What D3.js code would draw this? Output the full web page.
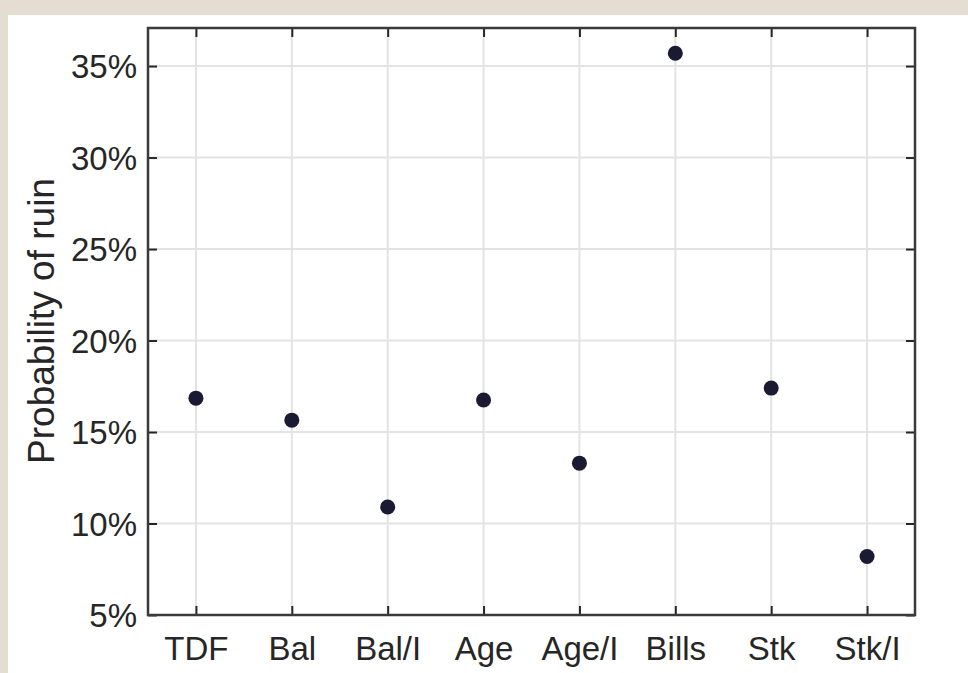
<!DOCTYPE html>
<html>
<head>
<meta charset="utf-8">
<script src="https://cdn.jsdelivr.net/npm/d3@7"></script>
<style>
  html, body { margin: 0; padding: 0; background: #e5ddd2; }
  svg { display: block; }
</style>
</head>
<body>
<svg id="chart"></svg>
<script>
const categories = ['TDF', 'Bal', 'Bal/I', 'Age', 'Age/I', 'Bills', 'Stk', 'Stk/I'];
const ruinPct = [16.85, 15.65, 10.9, 16.75, 13.3, 35.7, 17.4, 8.2];
const yTicks = [5, 10, 15, 20, 25, 30, 35];

const width = 968, height = 673;
const margin = {top: 28, right: 53, bottom: 58, left: 148};
const innerW = width - margin.left - margin.right;
const innerH = height - margin.top - margin.bottom;
const textColor = '#262626';
const font = '"Liberation Sans", Arial, sans-serif';

const svg = d3.select('#chart').attr('width', width).attr('height', height);

// white canvas inside beige border
svg.append('rect')
    .attr('x', 8).attr('y', 15)
    .attr('width', width - 8).attr('height', height - 15)
    .attr('fill', '#fff');

const g = svg.append('g')
    .attr('transform', `translate(${margin.left}, ${margin.top})`);

const x = d3.scaleLinear().domain([0.5, categories.length + 0.5]).range([0, innerW]);
const y = d3.scaleLinear().domain([5, 37.08]).range([innerH, 0]);

const idx = categories.map((d, i) => i + 1);

// grid
g.append('g').selectAll('line.gx').data(idx).enter()
    .append('line')
    .attr('x1', d => x(d)).attr('x2', d => x(d))
    .attr('y1', 0).attr('y2', innerH)
    .attr('stroke', '#e3e3e3').attr('stroke-width', 2);

g.append('g').selectAll('line.gy').data(yTicks).enter()
    .append('line')
    .attr('x1', 0).attr('x2', innerW)
    .attr('y1', d => y(d)).attr('y2', d => y(d))
    .attr('stroke', '#e3e3e3').attr('stroke-width', 2);

// axes with inward ticks
const tickLen = 9;
const xBottom = d3.axisBottom(x).tickValues(idx).tickFormat((d, i) => categories[i])
    .tickSizeInner(-tickLen).tickSizeOuter(0).tickPadding(22);
const xTop = d3.axisTop(x).tickValues(idx).tickFormat('')
    .tickSizeInner(-tickLen).tickSizeOuter(0);
const yLeft = d3.axisLeft(y).tickValues(yTicks).tickFormat(d => d + '%')
    .tickSizeInner(-tickLen).tickSizeOuter(0).tickPadding(11);
const yRight = d3.axisRight(y).tickValues(yTicks).tickFormat('')
    .tickSizeInner(-tickLen).tickSizeOuter(0);

function styleAxis(sel) {
    sel.select('.domain').remove();
    sel.selectAll('line').attr('stroke', textColor).attr('stroke-width', 2);
    sel.selectAll('text')
        .attr('fill', textColor)
        .style('font-family', font)
        .style('font-size', '33px');
}

g.append('g').attr('transform', `translate(0, ${innerH})`).call(xBottom).call(styleAxis);
g.append('g').call(xTop).call(styleAxis);
g.append('g').call(yLeft).call(styleAxis)
    .selectAll('text').attr('dy', '0.36em');
g.append('g').attr('transform', `translate(${innerW}, 0)`).call(yRight).call(styleAxis);

// frame
g.append('rect')
    .attr('x', 0).attr('y', 0)
    .attr('width', innerW).attr('height', innerH)
    .attr('fill', 'none')
    .attr('stroke', '#3a3a3a')
    .attr('stroke-width', 2.5);

// points
g.append('g').selectAll('circle').data(ruinPct).enter()
    .append('circle')
    .attr('cx', (d, i) => x(i + 1))
    .attr('cy', d => y(d))
    .attr('r', 7.5)
    .attr('fill', '#1b1a33');

// y label
svg.append('text')
    .attr('transform', 'translate(54, 321) rotate(-90)')
    .attr('text-anchor', 'middle')
    .attr('fill', textColor)
    .style('font-family', font)
    .style('font-size', '37px')
    .text('Probability of ruin');
</script>
</body>
</html>
